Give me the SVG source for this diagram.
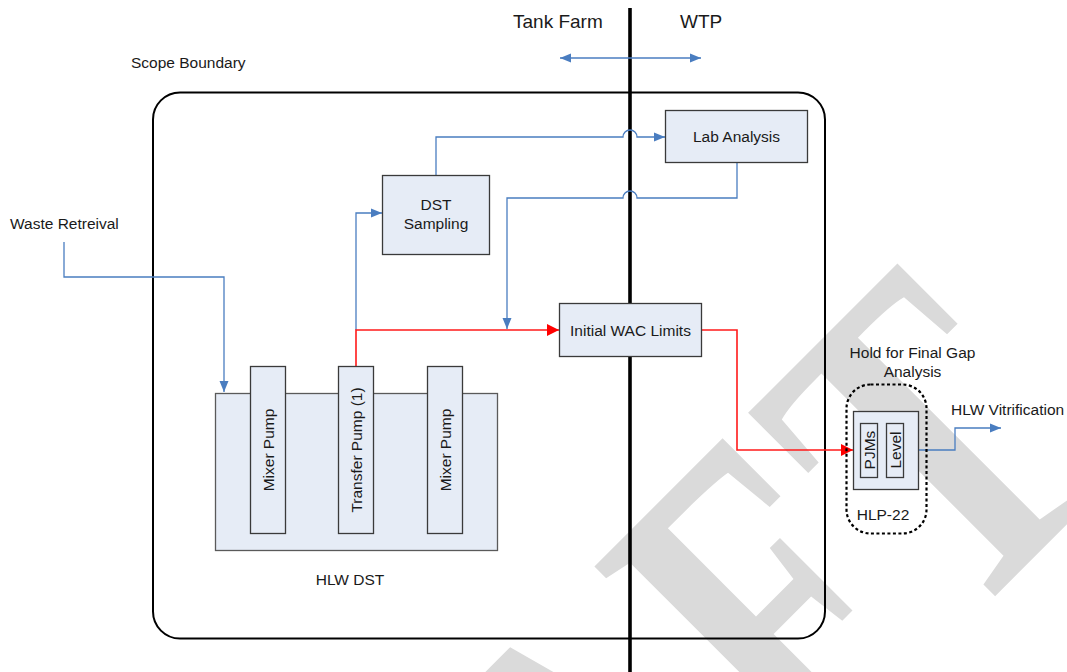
<svg xmlns="http://www.w3.org/2000/svg" width="1067" height="672" viewBox="0 0 1067 672">
<style>
.bg{fill:#ffffff}
.wm{font-family:"Liberation Serif","Times New Roman",serif;font-weight:bold;font-size:332px;letter-spacing:15px;font-kerning:none;fill:#dadada}
.box{fill:#e6ecf6;stroke:#3a3a3a;stroke-width:1.3}
.tank{fill:#e6ecf6;stroke:#5a5a5a;stroke-width:1.3}
.t{font-family:"Liberation Sans",Arial,sans-serif;font-size:15.5px;fill:#1a1a1a}
.big{font-family:"Liberation Sans",Arial,sans-serif;font-size:19px;fill:#1a1a1a}
.blue{fill:none;stroke:#4a7dc0;stroke-width:1.3}
.red{fill:none;stroke:#ff1a1a;stroke-width:1.6}
</style>
<defs>
<marker id="ab" markerUnits="userSpaceOnUse" markerWidth="12" markerHeight="10" refX="11" refY="5" orient="auto-start-reverse"><path d="M0,0.5 L11,5 L0,9.5 z" fill="#4a7dc0"/></marker>
<marker id="ar" markerUnits="userSpaceOnUse" markerWidth="13" markerHeight="13" refX="12" refY="6.5" orient="auto"><path d="M0,0.5 L12,6.5 L0,12.5 z" fill="#ff0000"/></marker>
</defs>
<rect class="bg" x="0" y="0" width="1067" height="672"/>
<text class="wm" x="-764" y="0" transform="translate(805.4,785.9) rotate(-45) scale(1,1.4)">DRAFT</text>

<g id="scope">
<rect x="153" y="92.5" width="672" height="546" rx="27" ry="27" fill="none" stroke="#000" stroke-width="2"/>
<text class="t" x="131" y="67.5">Scope Boundary</text>
</g>
<g id="divider">
<line x1="630" y1="8" x2="630" y2="672" stroke="#000" stroke-width="3.6"/>
<text class="big" x="513" y="28">Tank Farm</text>
<text class="big" x="680" y="28">WTP</text>
</g>

<g id="connectors">
<path class="blue" d="M560,58 H701" marker-start="url(#ab)" marker-end="url(#ab)"/>
<path class="blue" d="M64,242 V277 H224 V392" marker-end="url(#ab)"/>
<path class="blue" d="M356,330 V213 H382" marker-end="url(#ab)"/>
<path class="blue" d="M436,175 V137 H623 A7,7 0 0 1 637,137 H665" marker-end="url(#ab)"/>
<path class="blue" d="M737,162 V198 H637 A7,7 0 0 0 623,198 H507 V329" marker-end="url(#ab)"/>
<path class="red" d="M356,366 V330 H559" marker-end="url(#ar)"/>
<path class="red" d="M701,330 H737 V450 H853" marker-end="url(#ar)"/>
<path class="blue" d="M919,450 H955 V428 H1001" marker-end="url(#ab)"/>
</g>

<g id="waste-retreival">
<text class="t" x="10" y="228.5">Waste Retreival</text>
</g>

<g id="lab-analysis">
<rect class="box" x="665.5" y="110.5" width="142" height="52"/>
<text class="t" x="736.5" y="142" text-anchor="middle">Lab Analysis</text>
</g>

<g id="dst-sampling">
<rect class="box" x="382.5" y="175.5" width="107" height="79"/>
<text class="t" x="436" y="210" text-anchor="middle">DST</text>
<text class="t" x="436" y="229" text-anchor="middle">Sampling</text>
</g>

<g id="initial-wac">
<rect class="box" x="559.5" y="303.5" width="142" height="53"/>
<text class="t" x="630.5" y="336" text-anchor="middle">Initial WAC Limits</text>
</g>

<g id="hlw-dst">
<rect class="tank" x="215.5" y="393.5" width="282" height="157"/>
<text class="t" x="350" y="585" text-anchor="middle">HLW DST</text>
</g>
<g id="mixer-pump-1">
<rect class="box" x="250.5" y="366.5" width="35" height="167"/>
<text class="t" transform="translate(274,450) rotate(-90)" text-anchor="middle">Mixer Pump</text>
</g>
<g id="transfer-pump">
<rect class="box" x="338.5" y="366.5" width="35" height="167"/>
<text class="t" transform="translate(361.5,450) rotate(-90)" text-anchor="middle">Transfer Pump (1)</text>
</g>
<g id="mixer-pump-2">
<rect class="box" x="427.5" y="366.5" width="35" height="167"/>
<text class="t" transform="translate(450.5,450) rotate(-90)" text-anchor="middle">Mixer Pump</text>
</g>

<g id="hlp-22">
<text class="t" x="912.5" y="358" text-anchor="middle">Hold for Final Gap</text>
<text class="t" x="912.5" y="377" text-anchor="middle">Analysis</text>
<rect x="846.5" y="384.5" width="80" height="149" rx="24" ry="24" fill="none" stroke="#000" stroke-width="2.2" stroke-dasharray="3,2.5"/>
<rect class="box" x="853.5" y="411.5" width="65" height="78"/>
<rect class="box" x="860.5" y="423.5" width="17" height="54"/>
<rect class="box" x="886.5" y="423.5" width="17" height="54"/>
<text class="t" transform="translate(874.5,450) rotate(-90)" text-anchor="middle">PJMs</text>
<text class="t" transform="translate(900.5,450) rotate(-90)" text-anchor="middle">Level</text>
<text class="t" x="883" y="520" text-anchor="middle">HLP-22</text>
</g>

<g id="hlw-vitrification">
<text class="t" x="951" y="414.5">HLW Vitrification</text>
</g>
</svg>
